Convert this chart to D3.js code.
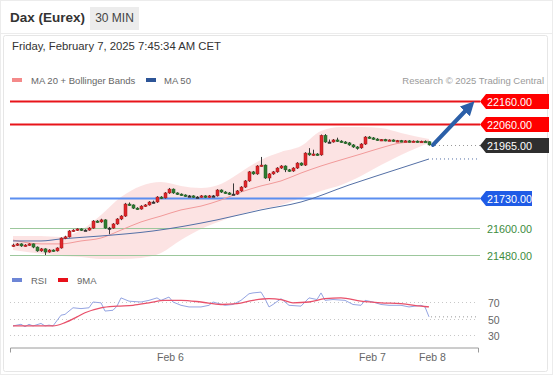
<!DOCTYPE html>
<html>
<head>
<meta charset="utf-8">
<script src="https://cdn.jsdelivr.net/npm/d3@7"></script>
<style>
body { margin: 0; background: #fff; font-family: "Liberation Sans", Arial, sans-serif; }
svg { display: block; }
</style>
</head>
<body>
<script>
// 30 min candles, oldest first
let opens = [21520,21524,21529,21520,21524,21529,21515,21498,21507,21493,21502,21498,21511,21555,21560,21586,21590,21595,21590,21590,
  21599,21630,21626,21635,21599,21599,21617,21639,21652,21705,21701,21687,21683,21696,21701,21714,21714,21736,21732,21754,
  21771,21754,21749,21745,21741,21741,21736,21736,21741,21736,21741,21741,21767,21758,21754,21749,21749,21763,21780,21807,
  21847,21838,21873,21877,21820,21838,21847,21864,21873,21856,21851,21864,21886,21877,21930,21922,21926,21922,22008,21979,
  21979,21988,21983,21979,21975,21966,21957,21953,21970,22001,21997,21992,21988,21990,21986,21988,21984,21985,21982,21984,
  21981,21983,21980,21982,21980];
let highs = [21530,21533,21532,21528,21532,21531,21518,21511,21510,21506,21505,21514,21558,21565,21590,21594,21598,21598,21594,21603,
  21634,21634,21640,21638,21604,21621,21643,21656,21710,21712,21704,21691,21700,21705,21718,21720,21740,21740,21758,21776,
  21774,21757,21752,21748,21745,21744,21740,21745,21744,21745,21745,21771,21770,21762,21758,21796,21767,21784,21811,21851,
  21851,21877,21913,21880,21842,21851,21868,21877,21876,21860,21868,21890,21889,21934,21952,21945,21930,22012,22014,21990,
  21992,21998,21987,21983,21979,21970,21961,21974,22005,22005,22001,21996,21992,21993,21991,21991,21988,21988,21987,21987,
  21986,21986,21985,21986,21982];
let lows = [21516,21520,21516,21517,21521,21510,21494,21494,21480,21490,21494,21495,21508,21550,21557,21582,21586,21586,21586,21587,
  21596,21622,21622,21596,21572,21596,21613,21634,21648,21697,21683,21679,21680,21692,21698,21708,21710,21727,21729,21750,
  21750,21745,21741,21737,21737,21732,21732,21733,21732,21733,21737,21738,21754,21750,21745,21745,21746,21759,21776,21803,
  21834,21834,21870,21816,21807,21834,21843,21860,21846,21847,21847,21860,21873,21873,21918,21918,21918,21918,21975,21975,
  21976,21979,21975,21970,21962,21953,21945,21949,21966,21993,21988,21984,21983,21982,21983,21980,21981,21978,21979,21977,
  21978,21976,21977,21978,21963];
let closes = [21524,21529,21520,21524,21529,21515,21498,21507,21493,21502,21498,21511,21555,21560,21586,21590,21595,21590,21590,21599,
  21630,21626,21635,21599,21599,21617,21639,21652,21705,21701,21687,21683,21696,21701,21714,21714,21736,21732,21754,21771,
  21754,21749,21745,21741,21741,21736,21736,21741,21736,21741,21741,21767,21758,21754,21749,21749,21763,21780,21807,21847,
  21838,21873,21877,21820,21838,21847,21864,21873,21856,21851,21864,21886,21877,21930,21922,21926,21922,22008,21979,21979,
  21988,21983,21979,21975,21966,21957,21953,21970,22001,21997,21992,21988,21990,21986,21988,21984,21985,21982,21984,21981,
  21983,21980,21982,21980,21966];

// indicator readings (candle index -> value)
let bandIdx = [0,7,12,17,22,27,32,37,42,47,52,57,62,67,72,77,82,87,92,97,104];
let bandUpper = [21564,21564,21560,21590,21657,21736,21785,21802,21785,21776,21794,21847,21900,21935,21961,22028,22045,22045,22041,22019,21992];
let bandLower = [21502,21485,21476,21471,21462,21462,21467,21489,21546,21595,21630,21661,21683,21701,21732,21763,21789,21829,21877,21922,21975];
let ma20 = [21546,21529,21529,21542,21555,21590,21626,21652,21679,21696,21723,21758,21785,21807,21842,21873,21900,21926,21953,21975,21983];
let ma50Idx = [0,7,12,22,35,51,62,72,84,97,104];
let ma50 = [21542,21542,21551,21564,21586,21635,21679,21714,21789,21864,21904];

let rsiIdx = [0,2,3,4,5,7,8,9,10,12,13,15,17,19,20,22,23,25,26,27,29,32,34,36,37,39,40,42,44,47,49,50,53,55,57,59,60,62,63,64,
  65,67,69,72,74,76,77,78,80,83,85,87,88,90,92,94,97,99,102,103,104];
let rsi = [41,43,40,43,41,44,41,42,41,54,55,63,62,63,70,69,59,60,65,75,71,70,72,75,72,76,70,66,64,64,66,70,66,67,72,80,81,82,74,64,
  67,74,66,65,75,73,81,72,73,72,67,66,72,70,67,66,66,64,66,64,52];
let rsiMaIdx = [0,5,10,13,16,18,22,26,30,34,38,42,47,52,56,60,64,67,70,74,78,82,87,92,97,102,104];
let rsiMa = [41,41,41,45,52,57,63,65,66,69,72,72,70,67,68,72,74,73,69,70,74,75,71,69,68,65,64];

let levels = [22160, 22060, 21965, 21730, 21600, 21480];
let levelKinds = ["res", "res", "last", "pivot", "sup", "sup"];
let rsiTicks = [70, 50, 30];
let dateTicks = [39.25, 89.75, 104.75];
let dateLabels = ["Feb 6", "Feb 7", "Feb 8"];
let target = 22160;

let W = 553, H = 375;
let svg = d3.select("body").append("svg").attr("width", W).attr("height", H);

// frame
svg.append("rect").attr("x", 0.5).attr("y", 0.5).attr("width", W - 1).attr("height", H - 1)
    .attr("fill", "#fff").attr("stroke", "#ececec");
svg.append("line").attr("x1", 0).attr("x2", W).attr("y1", 33.5).attr("y2", 33.5).attr("stroke", "#ececec");
svg.append("rect").attr("x", 3.5).attr("y", 35.5).attr("width", 544).attr("height", 336)
    .attr("fill", "none").attr("stroke", "#e6e6e6").attr("rx", 2);

// header
svg.append("text").attr("x", 10).attr("y", 22).attr("font-size", 13.5).attr("font-weight", "bold")
    .attr("fill", "#333").text("Dax (Eurex)");
svg.append("rect").attr("x", 90).attr("y", 7).attr("width", 49).attr("height", 23).attr("fill", "#ececec");
svg.append("text").attr("x", 114.5).attr("y", 22).attr("font-size", 12).attr("text-anchor", "middle")
    .attr("fill", "#444").text("30 MIN");
svg.append("text").attr("x", 12).attr("y", 50).attr("font-size", 11.3).attr("fill", "#333")
    .text("Friday, February 7, 2025 7:45:34 AM CET");

// legend
let legend = svg.append("g").attr("font-size", 9.5).attr("fill", "#666");
legend.append("rect").attr("x", 12).attr("y", 78).attr("width", 10).attr("height", 4).attr("fill", "#f48a8a");
legend.append("text").attr("x", 31).attr("y", 84).text("MA 20 + Bollinger Bands");
legend.append("rect").attr("x", 146).attr("y", 78).attr("width", 10).attr("height", 4).attr("fill", "#2d5597");
legend.append("text").attr("x", 164).attr("y", 84).text("MA 50");
legend.append("text").attr("x", 544).attr("y", 84).attr("text-anchor", "end").attr("fill", "#9a9a9a")
    .text("Research \u00a9 2025 Trading Central");

// scales
let x = d3.scaleLinear().domain([-0.75, 116.5]).range([10, 479]);
let y = d3.scaleLinear().domain([21480, 22160]).range([255, 101]);
let ry = d3.scaleLinear().domain([30, 70]).range([335, 302]);
let plotRight = 480;

// bollinger band + MAs
let band = bandIdx.map((d, i) => ({i: d, hi: bandUpper[i], lo: bandLower[i], ma: ma20[i]}));
svg.append("path").datum(band)
    .attr("fill", "#fbdada").attr("fill-opacity", 0.75)
    .attr("d", d3.area().curve(d3.curveMonotoneX).x(d => x(d.i)).y0(d => y(d.lo)).y1(d => y(d.hi)));

// level lines
let levelStyle = {
    res: {stroke: "#e8141a", width: 2, dash: null, box: "#ff0000", boxEnd: 549, text: "#fff"},
    last: {stroke: "#999", width: 1, dash: "1,3", box: "#2f2f2f", boxEnd: 549, text: "#fff"},
    pivot: {stroke: "#5b8ef0", width: 2, dash: null, box: "#1f5be6", boxEnd: 532, text: "#fff"},
    sup: {stroke: "#9cc79c", width: 1, dash: null, box: null, text: "#3d8b3d"}
};
levels.forEach((lv, k) => {
    let s = levelStyle[levelKinds[k]];
    let yy = Math.round(y(lv)) + 0.5;
    let x0 = levelKinds[k] === "last" ? x(105.5) : 10;
    svg.append("line").attr("x1", x0).attr("x2", plotRight).attr("y1", yy).attr("y2", yy)
        .attr("stroke", s.stroke).attr("stroke-width", s.width).attr("stroke-dasharray", s.dash);
    if (s.box) {
        svg.append("path")
            .attr("d", `M${plotRight},${yy} L${plotRight + 6},${yy - 7.5} L${s.boxEnd},${yy - 7.5} L${s.boxEnd},${yy + 7.5} L${plotRight + 6},${yy + 7.5} Z`)
            .attr("fill", s.box);
    }
    svg.append("text").attr("x", 487).attr("y", yy + 4).attr("font-size", 10.8)
        .attr("fill", s.text).text(lv.toFixed(2));
});

svg.append("path").datum(band)
    .attr("fill", "none").attr("stroke", "#f29a9a").attr("stroke-width", 1)
    .attr("d", d3.line().curve(d3.curveMonotoneX).x(d => x(d.i)).y(d => y(d.ma)));

let ma50Pts = ma50Idx.map((d, i) => [x(d), y(ma50[i])]);
svg.append("path").datum(ma50Pts)
    .attr("fill", "none").attr("stroke", "#5470a6").attr("stroke-width", 1)
    .attr("d", d3.line().curve(d3.curveMonotoneX));
let lastMa = ma50Pts[ma50Pts.length - 1];
svg.append("line").attr("x1", lastMa[0] + 3).attr("x2", plotRight).attr("y1", lastMa[1]).attr("y2", lastMa[1])
    .attr("stroke", "#5470a6").attr("stroke-dasharray", "1,3");

// candles
let candles = closes.map((c, i) => ({i: i, o: opens[i], h: highs[i], l: lows[i], c: c}));
let cg = svg.append("g").selectAll("g").data(candles).join("g");
cg.append("line")
    .attr("x1", d => x(d.i) + 0.5).attr("x2", d => x(d.i) + 0.5)
    .attr("y1", d => y(d.h)).attr("y2", d => y(d.l))
    .attr("stroke", "#3a3a3a").attr("stroke-width", 1);
cg.append("rect")
    .attr("x", d => x(d.i) - 1).attr("width", 3)
    .attr("y", d => y(Math.max(d.o, d.c)))
    .attr("height", d => Math.max(1.5, Math.abs(y(d.o) - y(d.c))))
    .attr("fill", d => d.c > d.o ? "#e0262b" : d.c < d.o ? "#2f7d32" : "#333")
    .attr("stroke", d => d.c > d.o ? "#a01818" : d.c < d.o ? "#1d5a20" : "#333")
    .attr("stroke-width", 0.5);

// target arrow
let defs = svg.append("defs");
defs.append("marker").attr("id", "head").attr("markerUnits", "userSpaceOnUse")
    .attr("markerWidth", 14).attr("markerHeight", 14).attr("refX", 2).attr("refY", 7)
    .attr("orient", "auto")
    .append("path").attr("d", "M0,0 L14,7 L0,14 Z").attr("fill", "#2b5fa8");
let last = closes[closes.length - 1];
svg.append("line")
    .attr("x1", x(105)).attr("y1", y(last))
    .attr("x2", x(113.3)).attr("y2", y(target) + 9)
    .attr("stroke", "#2b5fa8").attr("stroke-width", 4).attr("stroke-linecap", "round")
    .attr("marker-end", "url(#head)");

// RSI panel
let rl = svg.append("g").attr("font-size", 9.5).attr("fill", "#666");
rl.append("rect").attr("x", 12).attr("y", 278).attr("width", 10).attr("height", 4).attr("fill", "#6d86d6");
rl.append("text").attr("x", 31).attr("y", 284).text("RSI");
rl.append("rect").attr("x", 58).attr("y", 278).attr("width", 10).attr("height", 4).attr("fill", "#e8101a");
rl.append("text").attr("x", 77).attr("y", 284).text("9MA");

rsiTicks.forEach(t => {
    let yy = Math.round(ry(t)) + 0.5;
    svg.append("line").attr("x1", 10).attr("x2", 478).attr("y1", yy).attr("y2", yy)
        .attr("stroke", "#c8c8c8").attr("stroke-dasharray", "1,3");
    svg.append("text").attr("x", 488).attr("y", yy + 4).attr("font-size", 10.5).attr("fill", "#666").text(t);
});

let rsiPts = rsiIdx.map((d, i) => [x(d), ry(rsi[i])]);
svg.append("path").datum(rsiPts)
    .attr("fill", "none").attr("stroke", "#94a4e2").attr("stroke-width", 1)
    .attr("d", d3.line());
let lastR = rsiPts[rsiPts.length - 1];
svg.append("line").attr("x1", lastR[0] + 2).attr("x2", 478).attr("y1", lastR[1]).attr("y2", lastR[1])
    .attr("stroke", "#9a9a9a").attr("stroke-dasharray", "1,3");
svg.append("path").datum(rsiMaIdx.map((d, i) => [x(d), ry(rsiMa[i])]))
    .attr("fill", "none").attr("stroke", "#e8506a").attr("stroke-width", 1.3)
    .attr("d", d3.line().curve(d3.curveMonotoneX));

// time axis
let xAxis = d3.axisBottom(x).tickValues(dateTicks).tickFormat((d, i) => dateLabels[i])
    .tickSizeInner(0).tickSizeOuter(5).tickPadding(6);
let ax = svg.append("g").attr("transform", "translate(0,347.5)").call(xAxis);
ax.select(".domain").attr("stroke", "#9a9a9a").attr("d", "M10.5,5V0.5H478.5V5");
ax.selectAll("text").attr("font-size", 10.5).attr("fill", "#666").attr("font-family", "Liberation Sans, Arial, sans-serif");
</script>
</body>
</html>
